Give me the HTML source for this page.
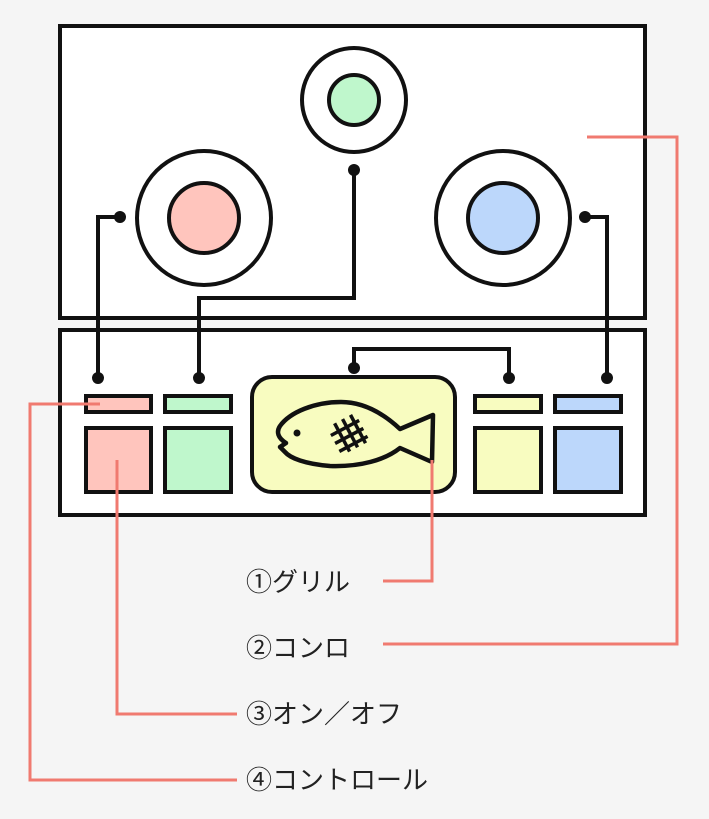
<!DOCTYPE html>
<html><head><meta charset="utf-8"><style>
body{margin:0;background:#f5f5f5;}
svg{display:block}
text{font-family:"Liberation Sans","Noto Sans CJK JP",sans-serif;font-size:26px;fill:#222}
</style></head><body>
<svg width="709" height="819" viewBox="0 0 709 819" xmlns="http://www.w3.org/2000/svg">
<g stroke="#111" stroke-width="4">
<rect x="60" y="26" width="585" height="292" fill="#fff"/>
<rect x="60" y="330" width="585" height="185" fill="#fff"/>
<circle cx="354" cy="100" r="52" fill="#fff"/>
<circle cx="354" cy="100" r="25" fill="#bff7cc"/>
<circle cx="204" cy="218" r="67" fill="#fff"/>
<circle cx="204" cy="218" r="35" fill="#ffc5bd"/>
<circle cx="503" cy="218" r="67" fill="#fff"/>
<circle cx="503" cy="218" r="35" fill="#bcd7fb"/>
<rect x="86" y="396" width="65" height="16" fill="#ffc5bd"/>
<rect x="165" y="396" width="66" height="16" fill="#bff7cc"/>
<rect x="475" y="396" width="66" height="16" fill="#f8fcc0"/>
<rect x="555" y="396" width="66" height="16" fill="#bcd7fb"/>
<rect x="86" y="428" width="65" height="64" fill="#ffc5bd"/>
<rect x="165" y="428" width="66" height="64" fill="#bff7cc"/>
<rect x="475" y="428" width="66" height="64" fill="#f8fcc0"/>
<rect x="555" y="428" width="66" height="64" fill="#bcd7fb"/>
<rect x="252" y="377" width="203" height="115" rx="20" fill="#f8fcc0"/>
<g fill="none">
<polyline points="120,217 98,217 98,378"/>
<polyline points="354,170 354,298 199,298 199,378"/>
<polyline points="585,217 607,217 607,378"/>
<polyline points="354,368 354,349 509,349 509,378"/>
<path d="M400,429 L433,415 L432,462 L400,448 C385,460 360,467 330,466 C305,464 290,458 285,452 L280,447 L286,443 C278,438 276,432 280,426 C290,412 315,402 341,402 C365,402 385,415 400,429 Z" stroke-width="4.5" stroke-linejoin="round"/>
<g transform="translate(351,435) rotate(-28)" stroke-width="3.5">
<path d="M-16,-7 H16 M-16,2 H16 M-16,11 H16 M-7,-16 V16 M2,-16 V16 M11,-16 V16" transform="translate(-2,-2)"/>
</g>
</g>
</g>
<circle cx="297" cy="433" r="3.5" fill="#111"/>
<g fill="#111">
<circle cx="120" cy="217" r="6"/><circle cx="98" cy="378" r="6"/>
<circle cx="354" cy="170" r="6"/><circle cx="199" cy="378" r="6"/>
<circle cx="585" cy="217" r="6"/><circle cx="607" cy="378" r="6"/>
<circle cx="354" cy="368" r="6"/><circle cx="509" cy="378" r="6"/>
</g>
<g stroke="#f07a70" stroke-width="3" fill="none">
<polyline points="432,460 432,581 383,581"/>
<polyline points="587,137 677,137 677,644 383,644"/>
<polyline points="117,460 117,714 237,714"/>
<polyline points="100,404 30,404 30,780 237,780"/>
</g>
<text x="246" y="591">①グリル</text>
<text x="246" y="657">②コンロ</text>
<text x="246" y="723">③オン／オフ</text>
<text x="246" y="789">④コントロール</text>
</svg>
</body></html>
